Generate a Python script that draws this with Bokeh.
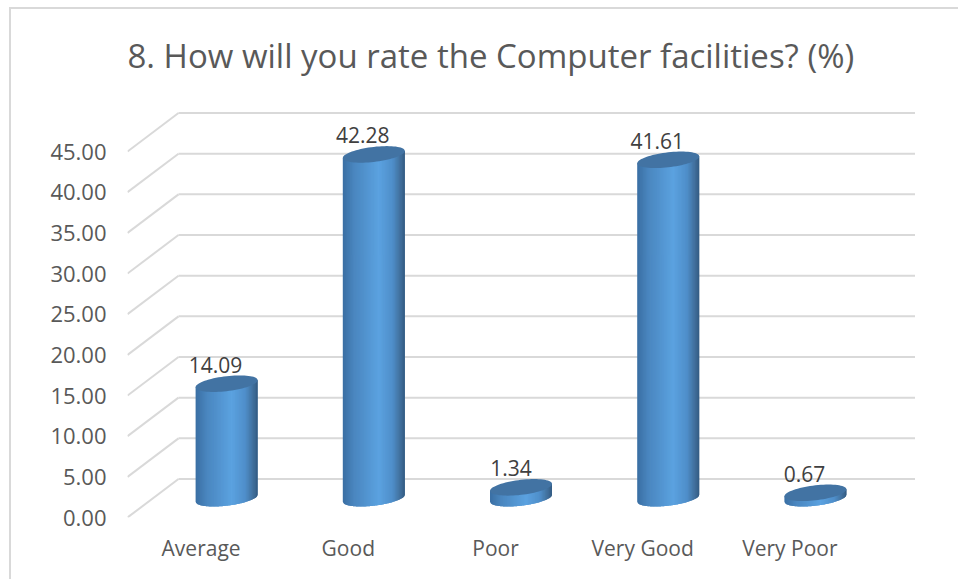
import math
from bokeh.plotting import figure, ColumnDataSource
from bokeh.models import Range1d, FixedTicker, NumeralTickFormatter
from bokeh.core.properties import value
from bokeh.embed import file_html
from bokeh.resources import INLINE

categories = ["Average", "Good", "Poor", "Very Good", "Very Poor"]
values = [14.09, 42.28, 1.34, 41.61, 0.67]
y_ticks = [0, 5, 10, 15, 20, 25, 30, 35, 40, 45]

FONT = "Open Sans"
PX_X = 147.2   # pixels per category
PX_Y = 8.133   # pixels per value unit
W, H = 958, 579
L, R, T, B = 127, 43, 105, 62

p = figure(width=W, height=H, output_backend="svg", toolbar_location=None,
           x_range=Range1d(0, (W - L - R) / PX_X), y_range=Range1d(0, (H - T - B) / PX_Y),
           min_border_left=L, min_border_right=R, min_border_top=T, min_border_bottom=B,
           outline_line_color=None, background_fill_color="white", border_fill_color="white")
p.grid.visible = False

# chart area border (left and top edges are the only ones inside the picture)
p.stylesheets = [":host::after{content:'';position:absolute;left:9px;top:7px;right:0;bottom:0;"
                 "border-left:2px solid #d9d9d9;border-top:2px solid #d9d9d9;pointer-events:none;}"]

# title
p.title.text = "8. How will you rate the Computer facilities? (%)"
p.title.text_font = FONT
p.title.text_font_size = "33px"
p.title.text_font_style = "normal"
p.title.text_color = "#595959"
p.title.align = "left"
p.title.standoff = 55

# axes
ax = p.yaxis[0]
ax.ticker = FixedTicker(ticks=y_ticks)
ax.formatter = NumeralTickFormatter(format="0.00")
ax.major_label_text_font = FONT
ax.major_label_text_font_size = "22px"
ax.major_label_text_color = "#595959"
ax.major_label_standoff = 15
ax.axis_line_color = None
ax.major_tick_line_color = None
ax.minor_tick_line_color = None

bx = p.xaxis[0]
bx.ticker = FixedTicker(ticks=[i + 0.5 for i in range(len(categories))])
bx.major_label_overrides = {i + 0.5: c for i, c in enumerate(categories)}
bx.major_label_text_font = FONT
bx.major_label_text_font_size = "21px"
bx.major_label_text_color = "#595959"
bx.major_label_standoff = 10
bx.axis_line_color = None
bx.major_tick_line_color = None
bx.minor_tick_line_color = None

# 3-D wall and floor grid
DEPTH_X, DEPTH_Y = 51 / PX_X, 38.5 / PX_Y
GRID = "#d9d9d9"
back_right = 787.5 / PX_X
p.segment(x0=[0] * len(y_ticks), y0=y_ticks,
          x1=[DEPTH_X] * len(y_ticks), y1=[t + DEPTH_Y for t in y_ticks],
          line_color=GRID, line_width=2)
p.segment(x0=[DEPTH_X] * len(y_ticks), y0=[t + DEPTH_Y for t in y_ticks],
          x1=[back_right] * len(y_ticks), y1=[t + DEPTH_Y for t in y_ticks],
          line_color=GRID, line_width=2)

# cylinders
A, Bb, K = 31.0, 7.5, 3.5 / 31.0
STRIPS = 44
STOPS = [(0.0, (0x3a, 0x6e, 0xa3)), (0.18, (0x4a, 0x86, 0xbf)), (0.58, (0x5b, 0xa2, 0xe0)),
         (0.8, (0x4f, 0x8f, 0xca)), (0.93, (0x41, 0x6f, 0x9c)), (1.0, (0x33, 0x5b, 0x82))]


def ramp(t):
    for (t0, c0), (t1, c1) in zip(STOPS, STOPS[1:]):
        if t <= t1:
            f = (t - t0) / (t1 - t0)
            return "#%02x%02x%02x" % tuple(round(a + (b - a) * f) for a, b in zip(c0, c1))
    return "#%02x%02x%02x" % STOPS[-1][1]


def half(dx):
    return Bb * math.sqrt(max(0.0, 1 - (dx / A) ** 2))


xs, ys, cs = [], [], []
cap_x, cap_y = [], []
for i, v in enumerate(values):
    cx = i + 0.5 + DEPTH_X / 2
    base = DEPTH_Y / 2
    top = base + v
    for s in range(STRIPS):
        d0 = -A + 2 * A * s / STRIPS
        d1 = min(A, d0 + 2 * 2 * A / STRIPS)
        ds = [d0 + (d1 - d0) * j / 4 for j in range(5)]
        low = [base + (K * d - half(d)) / PX_Y for d in ds]
        upp = [top + K * d / PX_Y for d in ds]
        xs.append([cx + d / PX_X for d in ds + ds[::-1]])
        ys.append(low + upp[::-1])
        cs.append(ramp((s + 0.5) / STRIPS))
    angles = [2 * math.pi * j / 72 for j in range(72)]
    cap_x.append([cx + A * math.cos(a) / PX_X for a in angles])
    cap_y.append([top + (K * A * math.cos(a) + Bb * math.sin(a)) / PX_Y for a in angles])

p.patches(xs, ys, fill_color=cs, line_color=None)
p.patches(cap_x, cap_y, fill_color="#4273a3", line_color=None)

# data labels
label_dx = [-11, -11, -10, -11, -11]
src = ColumnDataSource(dict(
    x=[i + 0.5 + DEPTH_X / 2 for i in range(len(values))],
    y=[DEPTH_Y / 2 + v for v in values],
    t=["%.2f" % v for v in values],
    dx=label_dx))
p.text("x", "y", text="t", source=src, x_offset="dx", y_offset=-19,
       text_font=value(FONT), text_font_size="21px", text_color="#404040",
       text_align="center", text_baseline="middle")

open("out.html", "w").write(file_html(p, INLINE))
